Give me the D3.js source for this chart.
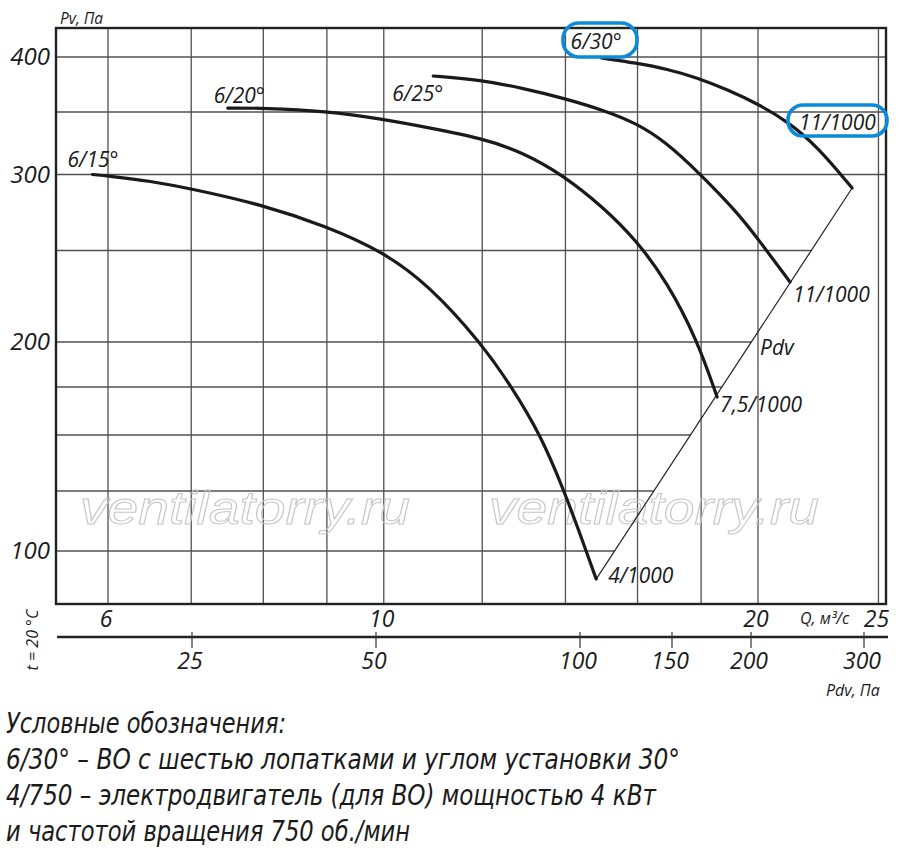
<!DOCTYPE html>
<html><head><meta charset="utf-8">
<script src="https://cdn.jsdelivr.net/npm/d3@7"></script>
<style>body{margin:0;background:#fff}</style>
</head><body>
<script>
// ---- data ----
const qGrid = [6, 7, 8, 9, 10, 12, 14, 16, 18, 20, 25];
const qTicks = [6, 10, 20, 25];
const pvGrid = [100, 125, 150, 175, 200, 250, 300, 350, 400];
const pvTicks = [100, 200, 300, 400];
const pdvTicks = [25, 50, 100, 150, 200, 300];

const curveNames = ["6/15°", "6/20°", "6/25°", "6/30°"];
const motorLabels = ["4/1000", "7,5/1000", "11/1000", "11/1000"];

const q15  = [5.83, 6.0, 6.49, 7.01, 8.0, 8.98, 9.97, 10.89, 11.97, 12.66, 13.36, 13.97, 14.55, 14.82];
const pv15 = [300, 299, 295.7, 290.5, 279.9, 266.1, 249.7, 230.6, 199.5, 175.6, 150.5, 125, 100, 88.3];

const q20  = [7.49, 8.0, 8.98, 9.97, 10.89, 11.97, 12.92, 13.94, 15.01, 15.96, 16.90, 17.87, 18.54];
const pv20 = [353.6, 353.6, 350.8, 344.4, 337.2, 329.2, 318, 299.6, 278.6, 256.9, 232.8, 201.1, 169.8];

const q25  = [10.96, 11.97, 12.92, 13.94, 15.01, 15.96, 16.90, 17.9, 19.24, 20.0, 21.22];
const pv25 = [382.7, 379.1, 371.8, 362.7, 351.8, 341.2, 325.2, 302, 275.3, 257.6, 232.8];

const q30  = [14.97, 15.96, 16.90, 17.9, 18.92, 20.0, 21.1, 22.31, 23.81];
const pv30 = [399.1, 394.5, 389.1, 380.9, 370, 357.3, 342.8, 322.8, 291.1];

const legendLines = [
  "Условные обозначения:",
  "6/30° – ВО с шестью лопатками и углом установки 30°",
  "4/750 – электродвигатель (для ВО) мощностью 4 кВт",
  "и частотой вращения 750 об./мин"
];
const watermark = "ventilatorry.ru";

// ---- layout ----
const W = 900, H = 854;
const L = 56, R = 886, T = 28, B = 604;
const svg = d3.select("body").append("svg").attr("width", W).attr("height", H)
  .style("font-family", "'Open Sans', sans-serif");

const x = d3.scaleLog().domain([6, 20]).range([108, 758]);
const y = d3.scaleLinear().domain(pvGrid).range([551, 491, 435, 387, 342, 250.5, 174.5, 112, 57]);
const xPdv = d3.scaleLinear().domain(pdvTicks.map(Math.log10)).range([192, 376, 580, 672, 751, 864]);

const series = [
  {q: q15, pv: pv15}, {q: q20, pv: pv20}, {q: q25, pv: pv25}, {q: q30, pv: pv30}
].map((s, i) => ({name: curveNames[i], motor: motorLabels[i],
  pts: s.q.map((q, j) => [x(q), y(s.pv[j])])}));

// Pdv diagonal through curve end points (6/30 top, 6/15 bottom)
const dTop = series[3].pts[series[3].pts.length - 1];
const dBot = series[0].pts[series[0].pts.length - 1];
const diagX = yy => dTop[0] + (yy - dTop[1]) * (dBot[0] - dTop[0]) / (dBot[1] - dTop[1]);

const grid = svg.append("g").attr("stroke", "#505050").attr("stroke-width", 1.3);
qGrid.forEach(q => grid.append("line").attr("x1", x(q)).attr("x2", x(q)).attr("y1", T).attr("y2", B));
pvGrid.forEach(p => {
  const yy = y(p);
  const xe = yy > dTop[1] ? diagX(yy) : R;
  grid.append("line").attr("x1", L).attr("x2", xe).attr("y1", yy).attr("y2", yy);
});

// watermark
[245, 654].forEach(cx => svg.append("text").attr("x", cx).attr("y", 524)
  .attr("text-anchor", "middle").attr("font-family", "'Liberation Sans', Arial, sans-serif")
  .attr("font-style", "italic").attr("font-size", 46)
  .attr("textLength", 330).attr("lengthAdjust", "spacingAndGlyphs")
  .attr("fill", "none").attr("stroke", "#c6c6c6").attr("stroke-width", 1)
  .text(watermark));

// frame
svg.append("rect").attr("x", L).attr("y", T).attr("width", R - L).attr("height", B - T)
  .attr("fill", "none").attr("stroke", "#222").attr("stroke-width", 2.4);

// Pdv diagonal
svg.append("line").attr("x1", dTop[0]).attr("y1", dTop[1]).attr("x2", dBot[0]).attr("y2", dBot[1])
  .attr("stroke", "#222").attr("stroke-width", 1.2);

// curves
const line = d3.line().curve(d3.curveBasis);
svg.append("g").selectAll("path").data(series).join("path")
  .attr("d", d => line(d.pts)).attr("fill", "none")
  .attr("stroke", "#1a1a1a").attr("stroke-width", 3.2).attr("stroke-linecap", "round");

// ---- texts ----
const txt = (xx, yy, s, size, anchor) => svg.append("text").attr("x", xx).attr("y", yy)
  .attr("font-size", size).attr("font-style", "italic").attr("fill", "#1a1a1a")
  .attr("text-anchor", anchor || "start").text(s);

// y ticks
pvTicks.forEach(p => txt(50, y(p) + 8, p, 24, "end"));
txt(60, 24, "Pv, Па", 15.5);

// Q ticks
qTicks.forEach(q => txt(x(q) - 2, 627, q, 23, "middle"));
txt(800, 624, "Q, м³/с", 16);

// Pdv axis
svg.append("line").attr("x1", 57).attr("x2", 888).attr("y1", 637).attr("y2", 637)
  .attr("stroke", "#222").attr("stroke-width", 2.4);
pdvTicks.forEach(p => {
  const xx = xPdv(Math.log10(p));
  svg.append("line").attr("x1", xx).attr("x2", xx).attr("y1", 632).attr("y2", 648)
    .attr("stroke", "#333").attr("stroke-width", 1.2);
  txt(xx - 2, 669, p, 23, "middle");
});
txt(826, 696, "Pdv, Па", 16);
svg.append("text").attr("transform", "translate(38,640) rotate(-90)")
  .attr("text-anchor", "middle").attr("font-size", 16).attr("font-style", "italic")
  .attr("fill", "#1a1a1a").text("t = 20 °C");

// curve name labels
const nameOff = [[-25, -8], [-14, -5], [-41, 25], [-31, -9]];
series.forEach((s, i) => txt(s.pts[0][0] + nameOff[i][0], s.pts[0][1] + nameOff[i][1], s.name, 21));

// motor labels at end points
const motOff = [[12, 4], [3, 15], [3, 20]];
series.slice(0, 3).forEach((s, i) => {
  const e = s.pts[s.pts.length - 1];
  txt(e[0] + motOff[i][0], e[1] + motOff[i][1], s.motor, 21);
});
// top 11/1000 label (boxed), for 6/30
txt(799, 130, series[3].motor, 21);
txt(760, 355, "Pdv", 21);

// highlight boxes
const blue = "#0a8ad8";
svg.append("rect").attr("x", 563).attr("y", 23).attr("width", 74).attr("height", 34).attr("rx", 16)
  .attr("fill", "none").attr("stroke", blue).attr("stroke-width", 3.6);
svg.append("rect").attr("x", 788).attr("y", 105).attr("width", 99).attr("height", 31).attr("rx", 15)
  .attr("fill", "none").attr("stroke", blue).attr("stroke-width", 3.6);

// legend
const lg = svg.append("g").attr("font-family", "'Liberation Sans Narrow', 'DejaVu Sans Condensed', 'Liberation Sans', sans-serif")
  .attr("font-style", "italic").attr("font-size", 29).attr("fill", "#1a1a1a");
const lgLen = [280, 674, 650, 404];
legendLines.forEach((s, i) => lg.append("text").attr("x", 6).attr("y", 733 + i * 36)
  .attr("textLength", lgLen[i]).attr("lengthAdjust", "spacingAndGlyphs").text(s));
</script>
</body></html>
